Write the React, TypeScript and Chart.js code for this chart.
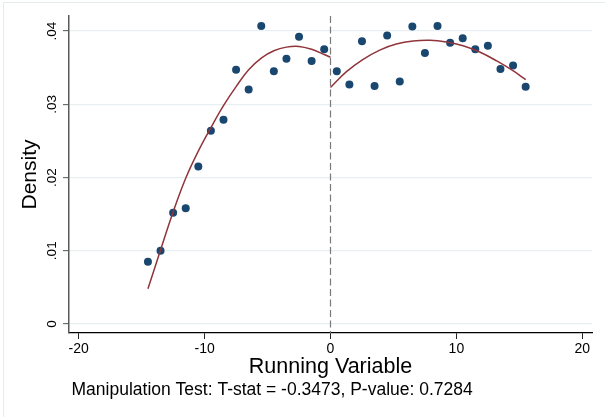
import React, { useEffect, useRef } from "react";
import { Chart, registerables } from "chart.js";

Chart.register(...registerables);

// ---- data ----
const LEFT_BINS = [-14.5, -13.5, -12.5, -11.5, -10.5, -9.5, -8.5, -7.5, -6.5, -5.5, -4.5, -3.5, -2.5, -1.5, -0.5];
const LEFT_DENSITY = [0.0085, 0.0100, 0.0152, 0.0158, 0.0215, 0.0264, 0.0279, 0.0347, 0.0320, 0.0407, 0.0345, 0.0362, 0.0392, 0.0359, 0.0375];
const RIGHT_BINS = [0.5, 1.5, 2.5, 3.5, 4.5, 5.5, 6.5, 7.5, 8.5, 9.5, 10.5, 11.5, 12.5, 13.5, 14.5, 15.5];
const RIGHT_DENSITY = [0.0345, 0.0327, 0.0386, 0.0325, 0.0394, 0.0331, 0.0406, 0.0370, 0.0407, 0.0384, 0.0390, 0.0375, 0.0380, 0.0348, 0.0353, 0.0324];

const LEFT_FIT_X = [-14.5, -13.5, -12.5, -11.5, -10.5, -9.5, -8.5, -7.5, -6.5, -5.5, -4.5, -3.5, -2.5, -1.5, -0.5, 0];
const LEFT_FIT_Y = [0.0048, 0.0101, 0.0153, 0.0199, 0.0236, 0.0268, 0.0298, 0.0324, 0.0347, 0.0363, 0.0373, 0.0378, 0.0379, 0.0375, 0.0368, 0.0364];
const RIGHT_FIT_X = [0, 1.27, 2.59, 3.91, 5.23, 6.56, 7.88, 9.21, 10.53, 11.85, 13.17, 14.49, 15.5];
const RIGHT_FIT_Y = [0.0323, 0.03445, 0.03613, 0.0374, 0.03822, 0.03863, 0.03873, 0.0385, 0.038, 0.03713, 0.03595, 0.03458, 0.03336];

const X_TICKS = [-20, -10, 0, 10, 20];
const X_TICK_LABELS = ["-20", "-10", "0", "10", "20"];
const Y_TICKS = [0, 0.01, 0.02, 0.03, 0.04];
const Y_TICK_LABELS = ["0", ".01", ".02", ".03", ".04"];
const X_MIN = -20.77;
const X_MAX = 20.77;
const Y_MIN = -0.00123;
const Y_MAX = 0.04205;
const CUTOFF = 0;

const X_TITLE = "Running Variable";
const Y_TITLE = "Density";
const NOTE = "Manipulation Test: T-stat = -0.3473, P-value: 0.7284";

const FONT = "'Liberation Sans', Arial, Helvetica, sans-serif";
const DOT_COLOR = "#1a476f";
const FIT_COLOR = "#90353b";

const pts = (xs: number[], ys: number[]) => xs.map((x, i) => ({ x, y: ys[i] }));

const decorPlugin = {
  id: "decor",
  beforeDatasetsDraw(chart: any) {
    const { ctx, chartArea, scales } = chart;
    const px = scales.x.getPixelForValue(CUTOFF);
    ctx.save();
    ctx.strokeStyle = "#7a7a7a";
    ctx.lineWidth = 1.2;
    ctx.setLineDash([7, 3.5]);
    ctx.beginPath();
    ctx.moveTo(px, chartArea.top);
    ctx.lineTo(px, chartArea.bottom);
    ctx.stroke();
    ctx.restore();
  },
  afterDraw(chart: any) {
    const { ctx, chartArea, scales } = chart;
    ctx.save();
    ctx.fillStyle = "#000";
    // y tick labels, rotated
    ctx.font = `13.5px ${FONT}`;
    ctx.textAlign = "center";
    ctx.textBaseline = "alphabetic";
    Y_TICKS.forEach((v, i) => {
      const py = scales.y.getPixelForValue(v);
      ctx.save();
      ctx.translate(55.5, py);
      ctx.rotate(-Math.PI / 2);
      ctx.fillText(Y_TICK_LABELS[i], 0, 0);
      ctx.restore();
    });
    // y title
    ctx.font = `21px ${FONT}`;
    ctx.save();
    ctx.translate(36, (chartArea.top + chartArea.bottom) / 2);
    ctx.rotate(-Math.PI / 2);
    ctx.fillText(Y_TITLE, 0, 0);
    ctx.restore();
    // x title
    ctx.font = `21.5px ${FONT}`;
    ctx.fillText(X_TITLE, (chartArea.left + chartArea.right) / 2, 373);
    // note
    ctx.font = `17.5px ${FONT}`;
    ctx.textAlign = "left";
    ctx.fillText(NOTE, chartArea.left + 2.5, 395);
    ctx.restore();
  },
};

export default function App() {
  const ref = useRef<HTMLCanvasElement | null>(null);

  useEffect(() => {
    if (!ref.current) return;
    const chart = new Chart(ref.current, {
      type: "scatter",
      data: {
        datasets: [
          {
            label: "fit left",
            data: pts(LEFT_FIT_X, LEFT_FIT_Y),
            showLine: true,
            borderColor: FIT_COLOR,
            borderWidth: 1.5,
            pointRadius: 0,
            tension: 0.4,
            order: 0,
          },
          {
            label: "fit right",
            data: pts(RIGHT_FIT_X, RIGHT_FIT_Y),
            showLine: true,
            borderColor: FIT_COLOR,
            borderWidth: 1.5,
            pointRadius: 0,
            tension: 0.4,
            order: 0,
          },
          {
            label: "bins left",
            data: pts(LEFT_BINS, LEFT_DENSITY),
            backgroundColor: DOT_COLOR,
            borderWidth: 0,
            pointRadius: 4,
            order: 1,
          },
          {
            label: "bins right",
            data: pts(RIGHT_BINS, RIGHT_DENSITY),
            backgroundColor: DOT_COLOR,
            borderWidth: 0,
            pointRadius: 4,
            order: 1,
          },
        ],
      },
      options: {
        animation: false,
        responsive: false,
        devicePixelRatio: 1,
        layout: { padding: { left: 0, top: 16, right: 13, bottom: 0 } },
        plugins: {
          legend: { display: false },
          tooltip: { enabled: false },
          title: { display: false },
        },
        scales: {
          x: {
            type: "linear",
            min: X_MIN,
            max: X_MAX,
            afterBuildTicks: (s: any) => {
              s.ticks = X_TICKS.map((value) => ({ value }));
            },
            afterFit: (s: any) => {
              s.height = 84;
            },
            ticks: {
              autoSkip: false,
              maxRotation: 0,
              minRotation: 0,
              padding: 2,
              color: "#000",
              font: { family: FONT, size: 14 },
              callback: (v: any) => {
                const i = X_TICKS.indexOf(Number(v));
                return i >= 0 ? X_TICK_LABELS[i] : "";
              },
            },
            grid: {
              drawOnChartArea: false,
              drawTicks: true,
              tickLength: 6,
              tickColor: "#222",
              tickWidth: 1,
            },
            border: { color: "#000", width: 1.3 },
          },
          y: {
            type: "linear",
            min: Y_MIN,
            max: Y_MAX,
            afterBuildTicks: (s: any) => {
              s.ticks = Y_TICKS.map((value) => ({ value }));
            },
            afterFit: (s: any) => {
              s.width = 69;
            },
            ticks: { display: false },
            grid: {
              color: "#e7eff1",
              lineWidth: 1.3,
              drawTicks: true,
              tickLength: 6,
              tickColor: "#555",
              tickWidth: 1,
            },
            border: { color: "#5a5a5a", width: 1.5 },
          },
        },
      },
      plugins: [decorPlugin],
    });
    return () => chart.destroy();
  }, []);

  return (
    <div
      style={{
        position: "fixed",
        left: 0,
        top: 0,
        width: 605,
        height: 417,
        background: "#fff",
        overflow: "hidden",
      }}
    >
      <div
        style={{
          position: "absolute",
          left: 3,
          top: 2,
          width: 620,
          height: 430,
          borderLeft: "1px solid #e4ecee",
          borderTop: "1px solid #e4ecee",
          boxSizing: "border-box",
        }}
      />
      <canvas
        ref={ref}
        width={605}
        height={417}
        style={{ position: "absolute", left: 0, top: 0, width: 605, height: 417 }}
      />
    </div>
  );
}
